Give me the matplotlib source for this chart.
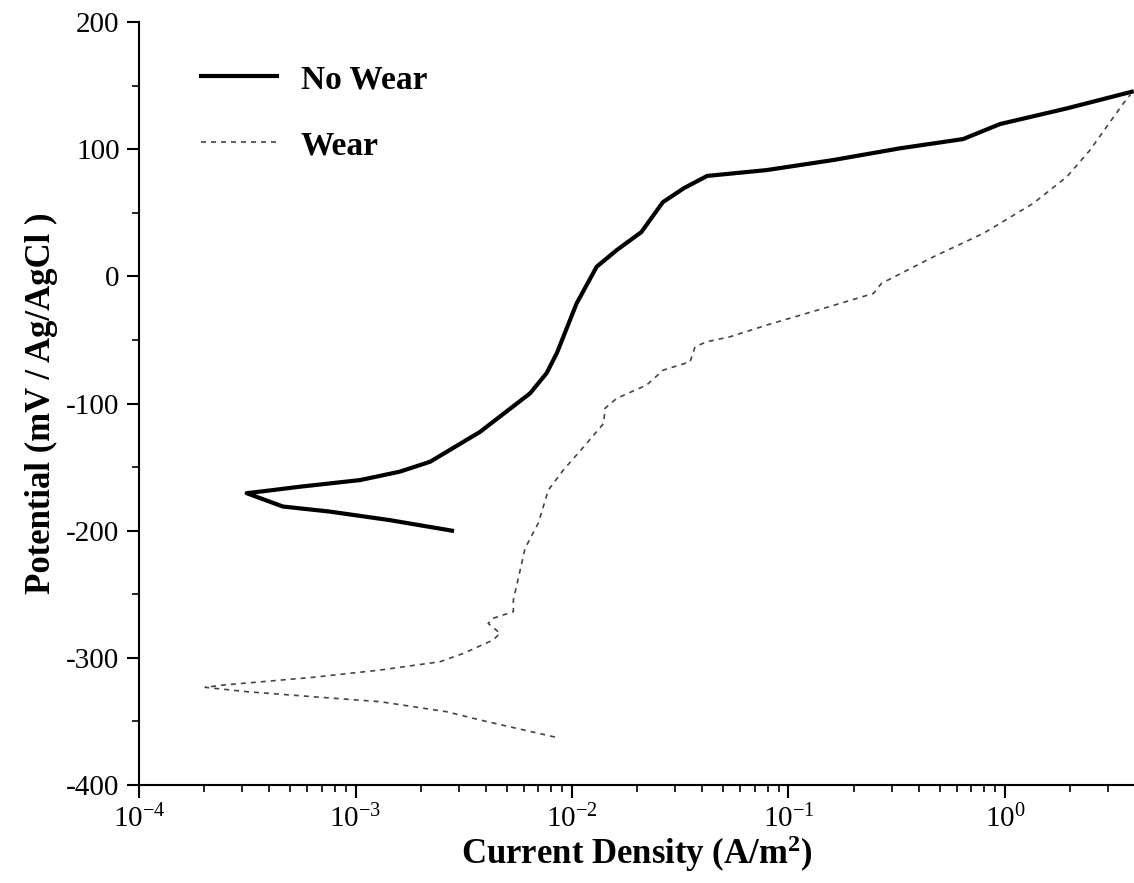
import numpy as np
import matplotlib
matplotlib.use("Agg")
import matplotlib.pyplot as plt
from matplotlib.ticker import LogLocator, MultipleLocator

# フォント設定
plt.rcParams["font.family"] = ["Liberation Serif", "DejaVu Serif"]
plt.rcParams["mathtext.default"] = "regular"
plt.rcParams["axes.unicode_minus"] = False

# データ
nowear_i = [2.79e-3, 1.44e-3, 7.62e-4, 4.62e-4, 3.14e-4, 3.62e-4, 5.55e-4,
            1.05e-3, 1.60e-3, 2.21e-3, 3.76e-3, 6.40e-3, 7.64e-3, 8.53e-3,
            9.12e-3, 1.05e-2, 1.30e-2, 1.61e-2, 2.09e-2, 2.63e-2, 3.29e-2,
            4.21e-2, 7.93e-2, 0.161, 0.327, 0.641, 0.949, 1.93, 3.85]
nowear_e = [-200, -191.7, -185, -181, -170.5, -169.3, -165.4,
            -160.2, -153.6, -145.8, -122.3, -92, -76, -60,
            -47.5, -21.3, 7.6, 20.7, 34.8, 58.4, 69.4,
            79, 83.6, 91.5, 100.7, 108, 119.8, 132.1, 145.2]

wear_i = [8.34e-3, 3.76e-3, 2.64e-3, 1.30e-3, 6.38e-4, 3.14e-4, 2.02e-4,
          2.45e-4, 6.38e-4, 1.30e-3, 2.45e-3, 3.15e-3, 4.32e-3, 4.65e-3,
          4.10e-3, 4.32e-3, 5.36e-3, 5.36e-3, 6.07e-3, 6.98e-3, 7.78e-3,
          9.12e-3, 1.17e-2, 1.40e-2, 1.42e-2, 1.61e-2, 2.21e-2, 2.64e-2,
          3.51e-2, 3.70e-2, 4.19e-2, 5.37e-2, 7.93e-2, 0.145, 0.247,
          0.269, 0.467, 0.794, 1.35, 1.93, 2.47, 3.52, 3.80]
wear_e = [-362.3, -348.9, -342.4, -334.5, -330.6, -326.6, -323.2,
          -321.4, -315.3, -309.6, -303.1, -296.5, -286, -280.7,
          -272.9, -268.9, -263.7, -254.5, -213.9, -194.2, -168,
          -152.3, -131.3, -115.6, -103.8, -95.9, -85.5, -73.7,
          -67.2, -55.4, -51.4, -47.5, -38.3, -25.2, -13.4,
          -5.5, 15.4, 33.8, 57.4, 78.3, 99.3, 136, 143]

# fig, ax
fig = plt.figure(figsize=(11.34, 8.83), dpi=100)
ax = fig.add_axes([0.1226, 0.111, 0.8774, 0.864])

ax.plot(nowear_i, nowear_e, color="black", linewidth=3, label="No Wear")
ax.plot(wear_i, wear_e, color="#444444", linewidth=1.2,
        linestyle=(0, (3, 3)), label="Wear")

ax.set_xscale("log")
ax.set_xlim(1e-4, 10 ** 0.596)
ax.set_ylim(-400, 200)
ax.xaxis.set_major_locator(LogLocator(base=10, numticks=10))
ax.xaxis.set_minor_locator(LogLocator(base=10, subs=np.arange(2, 10), numticks=20))
ax.yaxis.set_major_locator(MultipleLocator(100))
ax.yaxis.set_minor_locator(MultipleLocator(50))

for s in ["top", "right"]:
    ax.spines[s].set_visible(False)
for s in ["left", "bottom"]:
    ax.spines[s].set_linewidth(1.5)

ax.tick_params(axis="both", which="major", direction="out", length=9,
               width=1.5, labelsize=21, pad=5)
ax.tick_params(axis="both", which="minor", direction="out", length=5,
               width=1.2)

ax.set_xlabel("Current Density (A/m$^2$)", fontsize=25, fontweight="bold",
              labelpad=0)
ax.set_ylabel("Potential (mV / Ag/AgCl )", fontsize=25, fontweight="bold",
              labelpad=6)

leg = ax.legend(loc="upper left", bbox_to_anchor=(0.062, 0.945),
                frameon=False, borderpad=0, borderaxespad=0,
                handlelength=2.3, handletextpad=0.7, labelspacing=1.05,
                prop={"size": 24, "weight": "bold"})

fig.savefig("out.png", dpi=100)
